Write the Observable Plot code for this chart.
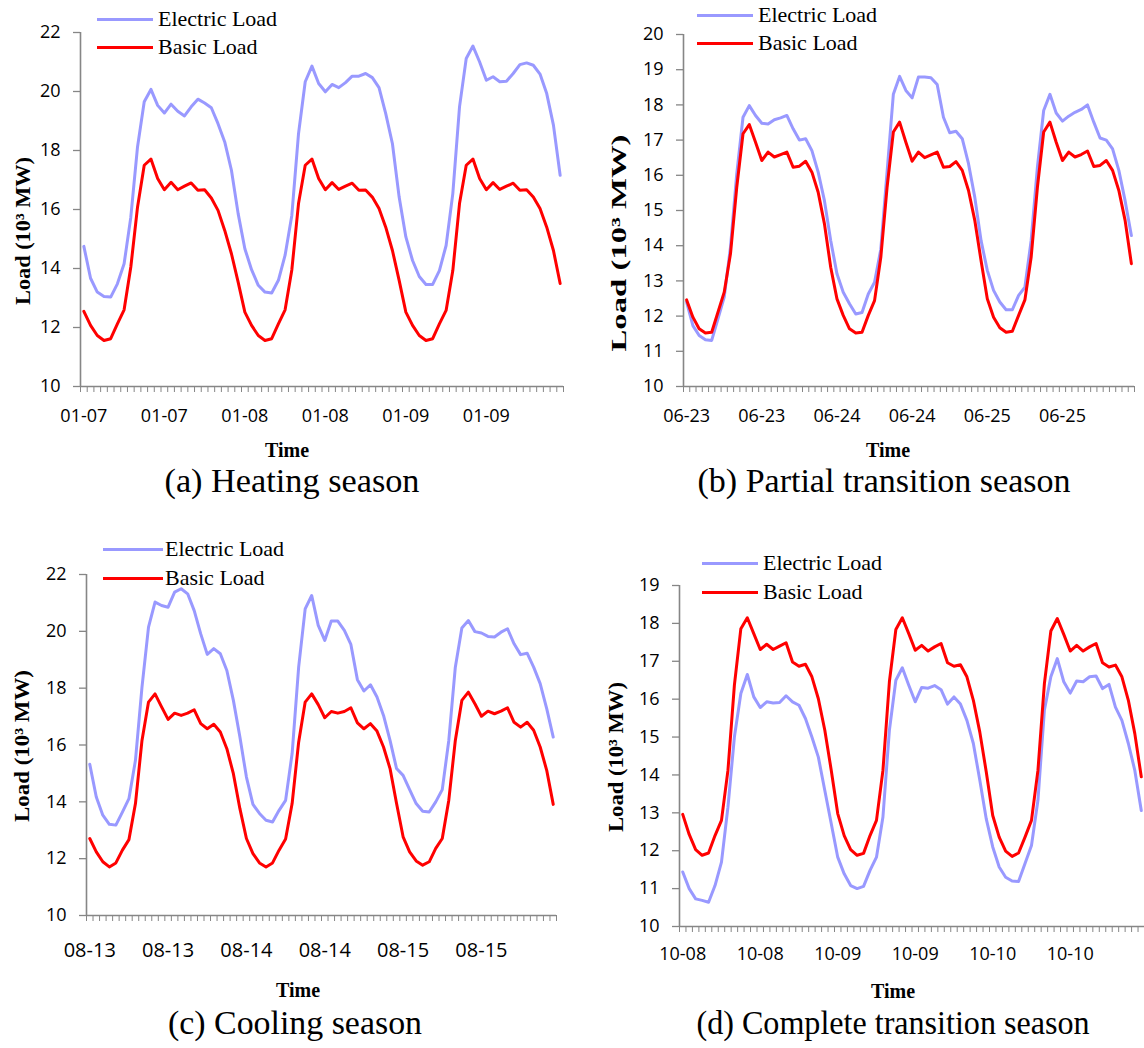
<!DOCTYPE html>
<html><head><meta charset="utf-8">
<script src="https://cdn.jsdelivr.net/npm/d3@7"></script>
<script src="https://cdn.jsdelivr.net/npm/@observablehq/plot@0.6"></script>
<style>
body{margin:0;background:#fff;}
#root{position:relative;width:1144px;height:1048px;background:#fff;overflow:hidden;}
.abs{position:absolute;white-space:nowrap;line-height:1;}
</style></head><body><div id="root"></div>
<script>
// ---------- data (10^3 MW), 72 hourly points per panel ----------
const seriesNames = ["Electric Load", "Basic Load"];
const seriesColors = ["#9999ff", "#ff0000"];

const aLabels = ["01-07","01-07","01-08","01-08","01-09","01-09"];
const aElec = [14.75,13.67,13.2,13.05,13.03,13.48,14.16,15.74,18.12,19.65,
 20.07,19.53,19.27,19.57,19.33,19.17,19.48,19.74,19.61,19.45,
 18.91,18.29,17.33,15.86,14.67,13.96,13.43,13.2,13.17,13.6,
 14.45,15.8,18.57,20.33,20.86,20.27,19.99,20.24,20.13,20.3,
 20.52,20.52,20.61,20.47,20.13,19.25,18.23,16.42,15.07,14.27,
 13.73,13.46,13.46,13.93,14.78,16.54,19.48,21.12,21.54,21.0,
 20.38,20.5,20.33,20.35,20.61,20.91,20.97,20.89,20.59,19.93,18.86,17.16];
const aBasic = [12.55,12.07,11.73,11.56,11.62,12.12,12.6,14.05,16.08,17.5,
 17.71,17.05,16.67,16.92,16.67,16.79,16.9,16.65,16.67,16.39,
 15.97,15.29,14.5,13.54,12.52,12.07,11.73,11.56,11.62,12.12,
 12.6,13.95,16.2,17.5,17.71,17.05,16.67,16.91,16.68,16.79,
 16.89,16.65,16.66,16.42,16.03,15.4,14.61,13.6,12.52,12.07,
 11.73,11.56,11.62,12.12,12.58,13.93,16.2,17.5,17.71,17.05,
 16.67,16.91,16.68,16.79,16.89,16.65,16.67,16.42,16.03,15.4,14.61,13.49];

const bLabels = ["06-23","06-23","06-24","06-24","06-25","06-25"];
const bElec = [12.4,11.73,11.45,11.33,11.31,11.92,12.54,13.96,16.04,17.65,
 17.98,17.7,17.48,17.46,17.58,17.63,17.7,17.32,17.0,17.04,
 16.7,16.09,15.28,14.15,13.2,12.68,12.35,12.06,12.1,12.63,
 12.96,13.9,16.1,18.3,18.81,18.41,18.2,18.79,18.79,18.77,
 18.58,17.65,17.21,17.25,17.04,16.33,15.38,14.15,13.3,12.73,
 12.4,12.18,12.18,12.59,12.82,14.15,16.23,17.84,18.3,17.77,
 17.54,17.68,17.79,17.87,18.0,17.51,17.06,17.0,16.75,16.14,15.28,14.29];
const bBasic = [12.46,11.97,11.64,11.52,11.54,12.11,12.68,13.77,15.66,17.18,
 17.44,16.94,16.42,16.66,16.52,16.59,16.66,16.23,16.26,16.4,
 16.09,15.52,14.62,13.39,12.49,12.02,11.64,11.52,11.54,12.02,
 12.44,13.67,15.66,17.23,17.51,16.94,16.4,16.66,16.5,16.58,
 16.66,16.23,16.25,16.39,16.14,15.57,14.72,13.58,12.49,11.97,
 11.67,11.54,11.57,12.02,12.46,13.67,15.66,17.23,17.51,16.94,
 16.42,16.66,16.52,16.59,16.69,16.25,16.28,16.42,16.14,15.57,14.72,13.49];

const cLabels = ["08-13","08-13","08-14","08-14","08-15","08-15"];
const cElec = [15.32,14.17,13.53,13.21,13.18,13.64,14.11,15.46,18.04,20.15,
 21.03,20.91,20.85,21.38,21.5,21.32,20.73,19.91,19.19,19.39,
 19.21,18.62,17.57,16.28,14.87,13.91,13.59,13.35,13.29,13.7,
 14.05,15.7,18.74,20.79,21.26,20.21,19.68,20.36,20.36,20.03,
 19.54,18.3,17.9,18.12,17.69,17.04,16.16,15.17,14.93,14.43,
 13.94,13.67,13.64,14.0,14.43,16.16,18.74,20.12,20.38,19.99,
 19.94,19.82,19.8,19.97,20.09,19.56,19.18,19.23,18.74,18.16,17.28,16.28];
const cBasic = [12.71,12.24,11.89,11.71,11.85,12.3,12.67,13.94,16.16,17.51,
 17.8,17.34,16.9,17.12,17.04,17.12,17.24,16.75,16.57,16.73,
 16.46,15.87,14.99,13.76,12.71,12.18,11.85,11.71,11.85,12.3,
 12.69,13.94,16.1,17.51,17.8,17.42,16.96,17.18,17.12,17.18,
 17.31,16.78,16.57,16.75,16.49,15.93,15.17,13.94,12.77,12.24,
 11.92,11.77,11.89,12.36,12.71,14.06,16.16,17.57,17.86,17.45,
 17.01,17.19,17.1,17.19,17.31,16.8,16.63,16.8,16.52,15.93,15.11,13.91];

const dLabels = ["10-08","10-08","10-09","10-09","10-10","10-10"];
const dElec = [11.44,11.0,10.73,10.69,10.64,11.08,11.7,13.15,15.0,16.15,
 16.65,16.06,15.78,15.93,15.9,15.91,16.09,15.93,15.84,15.49,
 15.0,14.47,13.59,12.71,11.83,11.39,11.08,11.0,11.06,11.48,
 11.83,12.89,15.18,16.5,16.83,16.37,15.93,16.31,16.29,16.36,
 16.25,15.87,16.06,15.87,15.44,14.83,13.86,12.84,12.1,11.57,
 11.3,11.2,11.19,11.66,12.14,13.33,15.71,16.59,17.07,16.46,
 16.16,16.48,16.46,16.59,16.61,16.28,16.39,15.79,15.44,14.83,14.12,13.06];
const dBasic = [12.96,12.43,12.03,11.88,11.94,12.4,12.8,14.12,16.37,17.86,
 18.15,17.73,17.31,17.45,17.31,17.4,17.49,16.98,16.87,16.92,
 16.59,16.01,15.18,14.12,12.98,12.4,12.03,11.88,11.93,12.4,
 12.8,14.12,16.46,17.84,18.15,17.73,17.29,17.42,17.27,17.38,
 17.47,16.96,16.87,16.91,16.59,15.97,15.13,14.08,12.93,12.36,
 11.99,11.85,11.94,12.36,12.8,14.12,16.41,17.8,18.13,17.71,
 17.27,17.42,17.27,17.38,17.47,16.96,16.85,16.9,16.59,15.97,15.09,13.95];

const captions = ["(a) Heating season","(b) Partial transition season","(c) Cooling season","(d) Complete transition season"];
const yTitle = "Load (10\u00b3 MW)";
const xTitle = "Time";

// ---------- layout ----------
const panels = [
 {left:0, top:0, width:575, height:430, mL:80, mR:12, mT:32, mB:44, yDomain:[10,22], yTicks:[10,12,14,16,18,20,22],
  elec:aElec, basic:aBasic, labels:aLabels, tickFont:18, xPad:22.6, caption:captions[0],
  cap:{x:292,y:481,w:255}, time:{x:287,y:450}, ytl:{x:23,y:231,len:148}, leg:{x0:97,x1:153,tx:158,y0:19,y1:47}},
 {left:600, top:0, width:544, height:430, mL:83, mR:10, mT:34, mB:44, yDomain:[10,20], yTicks:d3.range(10,21),
  elec:bElec, basic:bBasic, labels:bLabels, tickFont:18, xPad:22.6, caption:captions[1],
  cap:{x:884,y:481,w:373}, time:{x:888,y:450}, ytl:{x:619,y:243,len:217}, leg:{x0:697,x1:753,tx:758,y0:15,y1:43}},
 {left:0, top:540, width:575, height:430, mL:86, mR:19, mT:34, mB:55, yDomain:[10,22], yTicks:[10,12,14,16,18,20,22],
  elec:cElec, basic:cBasic, labels:cLabels, tickFont:20, xPad:27, caption:captions[2],
  cap:{x:295,y:1023,w:254}, time:{x:298,y:990}, ytl:{x:22,y:746,len:152}, leg:{x0:103,x1:163,tx:165,y0:549,y1:578}},
 {left:600, top:550, width:544, height:430, mL:79, mR:0, mT:35, mB:54, yDomain:[10,19], yTicks:d3.range(10,20),
  elec:dElec, basic:dBasic, labels:dLabels, tickFont:18, xPad:20.6, caption:captions[3],
  cap:{x:893,y:1023,w:393}, time:{x:893,y:991}, ytl:{x:616,y:757,len:150}, leg:{x0:702,x1:758,tx:763,y0:563,y1:592}}
];

const root = document.getElementById("root");
const AX = "#868686";
const SERIF = "'Liberation Serif','Times New Roman',serif";

function addText(str, x, y, {size=20, weight="normal", rotate=0, len=null, anchor="middle"}={}) {
  const el = document.createElement("div");
  el.className = "abs";
  el.textContent = str;
  el.style.fontFamily = SERIF;
  el.style.fontSize = size + "px";
  el.style.fontWeight = weight;
  el.style.left = x + "px";
  el.style.top = y + "px";
  root.appendChild(el);
  const w = el.getBoundingClientRect().width;
  const k = len ? len / w : 1;
  if (anchor === "middle") {
    el.style.transform = `translate(-50%,-50%) rotate(${rotate}deg) scaleX(${k})`;
  } else {
    el.style.transformOrigin = "0 50%";
    el.style.transform = `translate(0,-50%) scaleX(${k})`;
  }
  return el;
}

panels.forEach(p => {
  const labelTicks = p.labels.map((_, i) => i * 12 + 0.5);
  const chart = Plot.plot({
    width: p.width, height: p.height,
    marginLeft: p.mL, marginRight: p.mR, marginTop: p.mT, marginBottom: p.mB,
    x: {domain: [0, 72], axis: null},
    y: {domain: p.yDomain, axis: null},
    style: {background: "transparent", overflow: "visible", fontFamily: "'Open Sans', sans-serif", fontSize: p.tickFont + "px", color: "black"},
    marks: [
      Plot.axisY({ticks: p.yTicks, tickSize: 7, tickPadding: 13, stroke: AX, strokeWidth: 1.3, fill: "black", fontSize: 18, label: null}),
      Plot.axisX({ticks: d3.range(0, 73), tickSize: 6, tickFormat: () => "", stroke: AX, strokeWidth: 1, label: null}),
      Plot.axisX({ticks: labelTicks, tickSize: 0, tickPadding: p.xPad, fill: "black", fontSize: p.tickFont,
                  tickFormat: d => p.labels[Math.round((d - 0.5) / 12)], label: null}),
      Plot.ruleX([0], {stroke: AX, strokeWidth: 1.6}),
      Plot.ruleY([p.yDomain[0]], {stroke: AX, strokeWidth: 1.6}),
      Plot.line(p.elec, {x: (d, i) => i + 0.5, y: d => d, stroke: seriesColors[0], strokeWidth: 3}),
      Plot.line(p.basic, {x: (d, i) => i + 0.5, y: d => d, stroke: seriesColors[1], strokeWidth: 3})
    ]
  });
  chart.style.position = "absolute";
  chart.style.left = p.left + "px";
  chart.style.top = p.top + "px";
  root.appendChild(chart);

  // legend
  [[p.leg.y0, 0], [p.leg.y1, 1]].forEach(([yy, s]) => {
    const sw = document.createElement("div");
    sw.className = "abs";
    Object.assign(sw.style, {left: p.leg.x0 + "px", top: (yy - 1.5) + "px", width: (p.leg.x1 - p.leg.x0) + "px", height: "3px", background: seriesColors[s]});
    root.appendChild(sw);
    addText(seriesNames[s], p.leg.tx, yy, {size: 22, anchor: "start"});
  });

  addText(yTitle, p.ytl.x, p.ytl.y, {size: 21, weight: "bold", rotate: -90, len: p.ytl.len});
  addText(xTitle, p.time.x, p.time.y, {size: 20, weight: "bold"});
  addText(p.caption, p.cap.x, p.cap.y, {size: 33, len: p.cap.w});
});
</script></body></html>
